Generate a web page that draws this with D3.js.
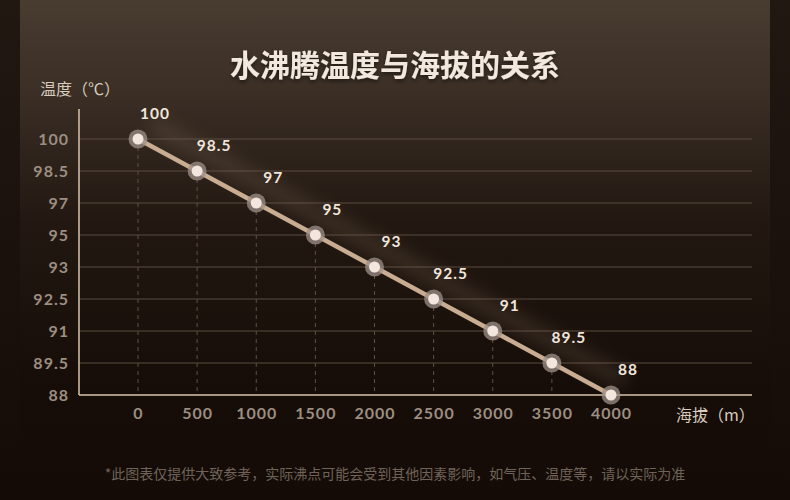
<!DOCTYPE html>
<html>
<head>
<meta charset="utf-8">
<script src="https://cdn.jsdelivr.net/npm/d3@7/dist/d3.min.js"></script>
<style>
  html, body { margin: 0; padding: 0; background: #170e09; }
  svg { display: block; }
</style>
</head>
<body>
<svg id="chart" width="790" height="500"></svg>
<script>
// Altitude (m) and the boiling point of water at that altitude
const altitudes = [0, 500, 1000, 1500, 2000, 2500, 3000, 3500, 4000];
const boilingPoints = ["100", "98.5", "97", "95", "93", "92.5", "91", "89.5", "88"];
const yCategories = ["100", "98.5", "97", "95", "93", "92.5", "91", "89.5", "88"];

const titleText = "水沸腾温度与海拔的关系";
const yTitle = "温度（℃）";
const xTitle = "海拔（m）";
const noteText = "*此图表仅提供大致参考，实际沸点可能会受到其他因素影响，如气压、温度等，请以实际为准";

const svg = d3.select("#chart");
const W = 790, H = 500;
const defs = svg.append("defs");

// Background card
const bg = defs.append("linearGradient").attr("id", "cardGrad")
  .attr("x1", 0).attr("y1", 0).attr("x2", 0).attr("y2", 1);
bg.append("stop").attr("offset", "0").attr("stop-color", "#4c3f33");
bg.append("stop").attr("offset", "0.2").attr("stop-color", "#3b2f26");
bg.append("stop").attr("offset", "0.45").attr("stop-color", "#221811");
bg.append("stop").attr("offset", "0.75").attr("stop-color", "#160d08");
bg.append("stop").attr("offset", "1").attr("stop-color", "#140b06");

const sideGrad = defs.append("linearGradient").attr("id", "sideGrad")
  .attr("x1", 0).attr("y1", 0).attr("x2", 0).attr("y2", 1);
sideGrad.append("stop").attr("offset", "0").attr("stop-color", "#221812");
sideGrad.append("stop").attr("offset", "1").attr("stop-color", "#140b07");

svg.append("rect").attr("width", W).attr("height", H).attr("fill", "url(#sideGrad)");
svg.append("rect").attr("x", 20).attr("y", -20).attr("width", 750).attr("height", H + 40)
  .attr("rx", 12).attr("fill", "url(#cardGrad)");

// soft glow filters
defs.append("filter").attr("id", "haze").attr("x", "-20%").attr("y", "-20%")
  .attr("width", "140%").attr("height", "140%")
  .append("feGaussianBlur").attr("stdDeviation", 9);
const ts = defs.append("filter").attr("id", "titleShadow");
ts.append("feDropShadow").attr("dx", 0).attr("dy", 2).attr("stdDeviation", 2)
  .attr("flood-color", "#000").attr("flood-opacity", 0.55);

// Scales
const x = d3.scaleLinear().domain([0, 4000]).range([138, 611]);
const y = d3.scalePoint().domain(yCategories).range([139, 395]);
const plotLeft = 79, plotRight = 752, plotTop = 109, plotBottom = 395;

// Horizontal grid
svg.append("g")
  .selectAll("line")
  .data(yCategories.filter(d => d !== "88"))
  .join("line")
  .attr("x1", plotLeft).attr("x2", plotRight)
  .attr("y1", d => y(d)).attr("y2", d => y(d))
  .attr("stroke", "#5a4b3f").attr("stroke-width", 1);

// Dashed drop lines
svg.append("g")
  .selectAll("line")
  .data(altitudes)
  .join("line")
  .attr("x1", d => x(d)).attr("x2", d => x(d))
  .attr("y1", (d, i) => y(boilingPoints[i])).attr("y2", plotBottom)
  .attr("stroke", "#5e5044").attr("stroke-width", 1)
  .attr("stroke-dasharray", "4,4");

// Axes lines
svg.append("line").attr("x1", plotLeft).attr("x2", plotLeft)
  .attr("y1", plotTop).attr("y2", plotBottom)
  .attr("stroke", "#d9c5ae").attr("stroke-width", 1.5);
svg.append("line").attr("x1", plotLeft).attr("x2", plotRight)
  .attr("y1", plotBottom).attr("y2", plotBottom)
  .attr("stroke", "#d9c5ae").attr("stroke-width", 1.5);

const tickFont = "Lato, 'Open Sans', sans-serif";

// Y axis labels
const yAxis = d3.axisLeft(y).tickSize(0).tickPadding(0);
const yg = svg.append("g").attr("transform", `translate(${69},0)`).call(yAxis);
yg.select(".domain").remove();
yg.selectAll("text")
  .attr("fill", "#9c8e81").attr("font-family", tickFont)
  .attr("font-size", 16).attr("font-weight", 700)
  .attr("letter-spacing", "1px").attr("dy", "0.35em");

// X axis labels
const xAxis = d3.axisBottom(x).tickValues(altitudes).tickFormat(d3.format("d")).tickSize(0).tickPadding(0);
const xg = svg.append("g").attr("transform", `translate(0,${408})`).call(xAxis);
xg.select(".domain").remove();
xg.selectAll("text")
  .attr("fill", "#9c8e81").attr("font-family", tickFont)
  .attr("font-size", 16).attr("font-weight", 700)
  .attr("letter-spacing", "1px").attr("dy", "0.71em");

// Data
const pts = altitudes.map((a, i) => ({ a, v: boilingPoints[i] }));
const lineGen = d3.line().x(d => x(d.a)).y(d => y(d.v));

// haze behind the line
svg.append("path").datum(pts)
  .attr("d", lineGen)
  .attr("transform", "translate(14,-14)")
  .attr("fill", "none").attr("stroke", "#8a7460").attr("stroke-width", 16)
  .attr("opacity", 0.28).attr("filter", "url(#haze)");

svg.append("path").datum(pts)
  .attr("d", lineGen)
  .attr("fill", "none").attr("stroke", "#c9ad92").attr("stroke-width", 4.5)
  .attr("stroke-linecap", "round");

const pg = svg.append("g").selectAll("g").data(pts).join("g")
  .attr("transform", d => `translate(${x(d.a)},${y(d.v)})`);
pg.append("circle").attr("r", 9.5).attr("fill", "#9d9088").attr("opacity", 0.75);
pg.append("circle").attr("r", 5.5).attr("fill", "#f2e6df");

// Value labels
svg.append("g").selectAll("text").data(pts).join("text")
  .attr("x", d => x(d.a) + 17)
  .attr("y", d => y(d.v) - 20)
  .attr("text-anchor", "middle")
  .attr("fill", "#f1e6dc").attr("font-family", tickFont)
  .attr("font-size", 15.5).attr("font-weight", 700).attr("letter-spacing", "1px")
  .text(d => d.v);

// Titles
svg.append("text").attr("x", 395).attr("y", 76).attr("text-anchor", "middle")
  .attr("fill", "#f2e8de").attr("font-family", "'Noto Sans CJK SC', sans-serif")
  .attr("font-size", 30).attr("font-weight", 700).attr("filter", "url(#titleShadow)")
  .text(titleText);

svg.append("text").attr("x", 40).attr("y", 95)
  .attr("fill", "#d8cbbd").attr("font-family", "'Noto Sans CJK SC', sans-serif")
  .attr("font-size", 16).text(yTitle);

svg.append("text").attr("x", 676).attr("y", 421)
  .attr("fill", "#d8cbbd").attr("font-family", "'Noto Sans CJK SC', sans-serif")
  .attr("font-size", 16).text(xTitle);

svg.append("text").attr("x", 395).attr("y", 479).attr("text-anchor", "middle")
  .attr("fill", "#6f6359").attr("font-family", "'Noto Sans CJK SC', sans-serif")
  .attr("font-size", 14).text(noteText);
</script>
</body>
</html>
